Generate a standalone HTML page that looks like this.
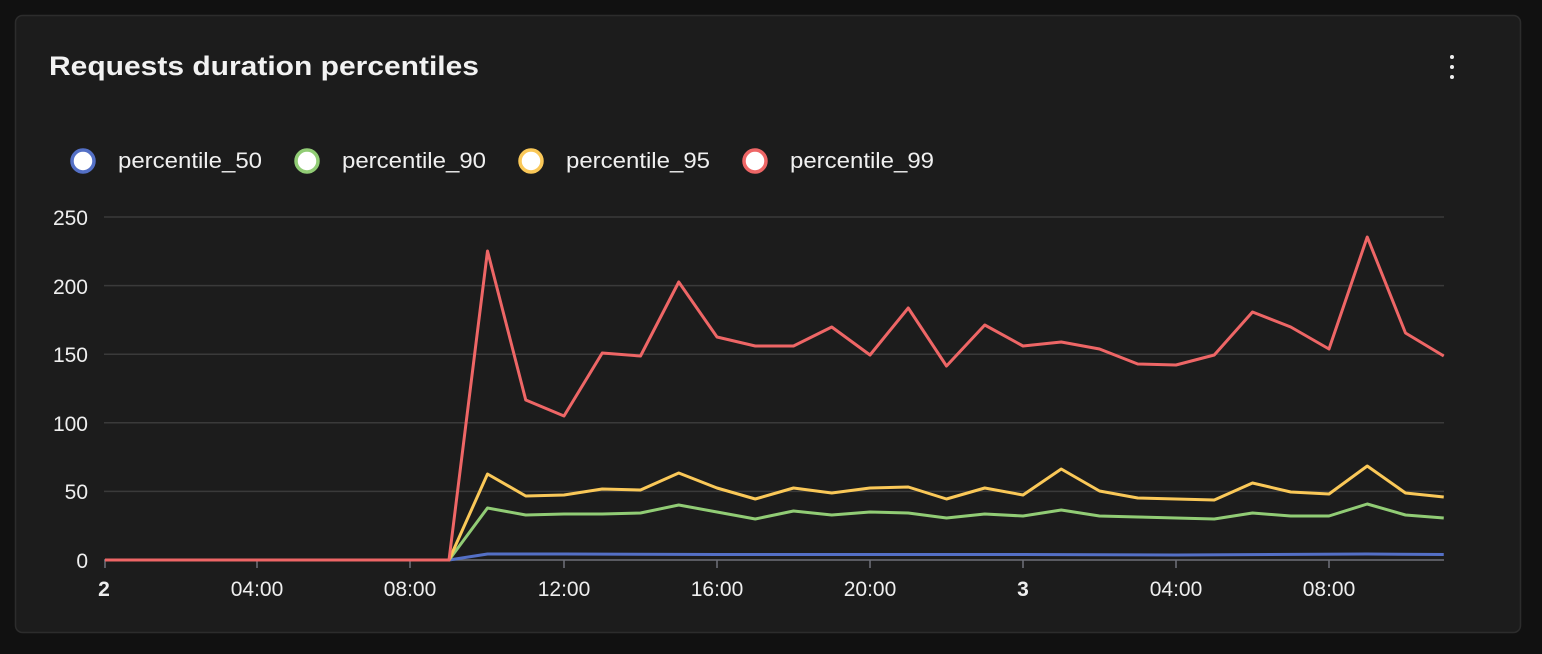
<!DOCTYPE html>
<html><head><meta charset="utf-8"><style>
html,body{margin:0;padding:0;background:#111111;width:1542px;height:654px;overflow:hidden;font-family:"Liberation Sans",sans-serif;}
</style></head><body>
<svg width="1542" height="654" xmlns="http://www.w3.org/2000/svg" font-family="Liberation Sans, sans-serif">
<rect x="15.5" y="15.5" width="1505" height="617" rx="7" fill="#1c1c1c" stroke="#2c2c2c" stroke-width="1.5"/>
<text x="49" y="75" font-size="27" font-weight="bold" fill="#f2f2f2" textLength="430" lengthAdjust="spacingAndGlyphs">Requests duration percentiles</text>
<circle cx="1452" cy="57" r="2" fill="#eee"/><circle cx="1452" cy="67" r="2" fill="#eee"/><circle cx="1452" cy="77" r="2" fill="#eee"/>
<g font-size="22" fill="#f0f0f0">
<circle cx="83" cy="161" r="11" fill="#fff" stroke="#5470c6" stroke-width="3.5"/><text x="118" y="168" textLength="144" lengthAdjust="spacingAndGlyphs">percentile_50</text>
<circle cx="307" cy="161" r="11" fill="#fff" stroke="#91cc75" stroke-width="3.5"/><text x="342" y="168" textLength="144" lengthAdjust="spacingAndGlyphs">percentile_90</text>
<circle cx="531" cy="161" r="11" fill="#fff" stroke="#fac858" stroke-width="3.5"/><text x="566" y="168" textLength="144" lengthAdjust="spacingAndGlyphs">percentile_95</text>
<circle cx="755" cy="161" r="11" fill="#fff" stroke="#ee6666" stroke-width="3.5"/><text x="790" y="168" textLength="144" lengthAdjust="spacingAndGlyphs">percentile_99</text>
</g>
<g stroke="#3a3a3a" stroke-width="1.5">
<line x1="104" x2="1444" y1="217" y2="217"/><line x1="104" x2="1444" y1="285.6" y2="285.6"/><line x1="104" x2="1444" y1="354.2" y2="354.2"/><line x1="104" x2="1444" y1="422.8" y2="422.8"/><line x1="104" x2="1444" y1="491.4" y2="491.4"/>
</g>
<line x1="104" x2="1444" y1="560" y2="560" stroke="#6e7079" stroke-width="1.5"/>
<g stroke="#6e7079" stroke-width="1.5">
<line x1="105" x2="105" y1="560" y2="568"/><line x1="257" x2="257" y1="560" y2="568"/><line x1="410" x2="410" y1="560" y2="568"/><line x1="564" x2="564" y1="560" y2="568"/><line x1="717" x2="717" y1="560" y2="568"/><line x1="870" x2="870" y1="560" y2="568"/><line x1="1023" x2="1023" y1="560" y2="568"/><line x1="1176" x2="1176" y1="560" y2="568"/><line x1="1329" x2="1329" y1="560" y2="568"/>
</g>
<g font-size="21" fill="#eeeeee" text-anchor="end">
<text x="88" y="225">250</text><text x="88" y="294">200</text><text x="88" y="362">150</text><text x="88" y="431">100</text><text x="88" y="499">50</text><text x="88" y="568">0</text>
</g>
<g font-size="21" fill="#eeeeee" text-anchor="middle">
<text x="104" y="596" font-weight="bold">2</text><text x="257" y="596">04:00</text><text x="410" y="596">08:00</text><text x="564" y="596">12:00</text><text x="717" y="596">16:00</text><text x="870" y="596">20:00</text><text x="1023" y="596" font-weight="bold">3</text><text x="1176" y="596">04:00</text><text x="1329" y="596">08:00</text>
</g>
<g fill="none" stroke-width="3" stroke-linejoin="round">
<polyline stroke="#5470c6" points="105,560 449,560 487.5,554 564,554 717,554.5 870,554.5 1023,554.5 1176,555 1367,554 1443.75,554.5"/>
<polyline stroke="#91cc75" points="105,560 449,560 487.5,508 525.75,515 564,514 602.25,514 640.5,513 678.75,505 717,512 755.25,519 793.5,511 831.75,515 870,512 908.25,513 946.5,518 984.75,514 1023,516 1061.25,510 1099.5,516 1137.75,517 1176,518 1214.25,519 1252.5,513 1290.75,516 1329,516 1367.25,504 1405.5,515 1443.75,518"/>
<polyline stroke="#fac858" points="105,560 449,560 487.5,474 525.75,496 564,495 602.25,489 640.5,490 678.75,473 717,488 755.25,499 793.5,488 831.75,493 870,488 908.25,487 946.5,499 984.75,488 1023,495 1061.25,469 1099.5,491 1137.75,498 1176,499 1214.25,500 1252.5,483 1290.75,492 1329,494 1367.25,466 1405.5,493 1443.75,497"/>
<polyline stroke="#ee6666" points="105,560 449,560 487.5,251 525.75,400 564,416 602.25,353 640.5,356 678.75,282 717,337 755.25,346 793.5,346 831.75,327 870,355 908.25,308 946.5,366 984.75,325 1023,346 1061.25,342 1099.5,349 1137.75,364 1176,365 1214.25,355 1252.5,312 1290.75,327 1329,349 1367.25,237 1405.5,333 1443.75,356"/>
</g>
</svg>
</body></html>
